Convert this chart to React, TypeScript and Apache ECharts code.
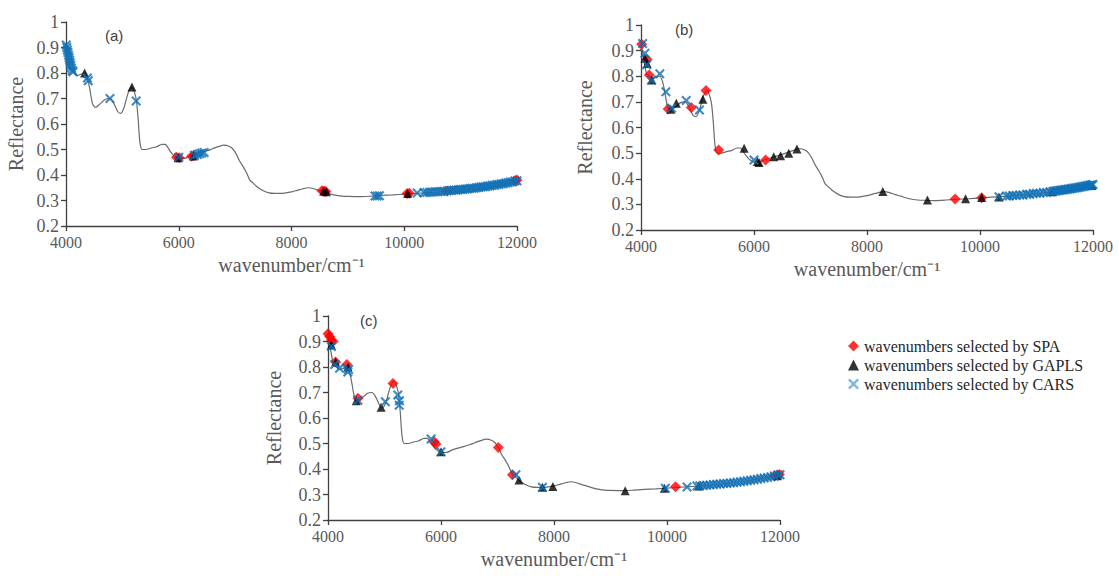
import React, { useEffect, useRef } from 'react';
import * as echarts from 'echarts';

// Mean spectrum (wavenumber / cm-1, reflectance)
const WAVENUMBER = [
  4000, 4030, 4060, 4100, 4150, 4200, 4260, 4330, 4380, 4420, 4470, 4520, 4600, 4700, 4780, 4850,
  4920, 4970, 5030, 5100, 5170, 5220, 5250, 5280, 5310, 5350, 5420, 5500, 5600, 5700, 5760, 5800,
  5860, 5920, 6000, 6100, 6200, 6300, 6400, 6500, 6600, 6700, 6800, 6900, 6960, 7020, 7080, 7150,
  7200, 7260, 7320, 7400, 7500, 7600, 7700, 7800, 7900, 8000, 8100, 8200, 8300, 8400, 8500, 8600,
  8700, 8800, 8900, 9000, 9200, 9400, 9600, 9800, 10000, 10200, 10400, 10600, 10800, 11000, 11200,
  11400, 11600, 11800, 12000,
];
const REFLECTANCE = [
  0.915, 0.89, 0.85, 0.81, 0.8, 0.79, 0.795, 0.8, 0.78, 0.74, 0.68, 0.665, 0.678, 0.697, 0.7, 0.68,
  0.648, 0.642, 0.665, 0.72, 0.745, 0.72, 0.69, 0.62, 0.53, 0.5, 0.5, 0.505, 0.51, 0.52, 0.52, 0.51,
  0.49, 0.475, 0.465, 0.465, 0.475, 0.482, 0.488, 0.495, 0.503, 0.511, 0.517, 0.512, 0.502, 0.482, 0.455, 0.43,
  0.41, 0.38, 0.368, 0.352, 0.338, 0.33, 0.328, 0.328, 0.33, 0.334, 0.34, 0.346, 0.35, 0.346, 0.338, 0.332,
  0.325, 0.32, 0.317, 0.316, 0.315, 0.317, 0.32, 0.322, 0.325, 0.328, 0.331, 0.334, 0.338, 0.342, 0.347,
  0.353, 0.36, 0.368, 0.377,
];

// Panel (a)
const A_SPA = [
  [5960, 0.47], [6010, 0.468], [6230, 0.474], [6270, 0.476], [8540, 0.338], [8580, 0.336],
  [8610, 0.335], [10050, 0.327], [10090, 0.328], [10760, 0.337], [11970, 0.378], [12000, 0.38],
];
const A_GAPLS = [
  [4330, 0.8], [5170, 0.745], [5990, 0.468], [6260, 0.475], [8570, 0.336], [8620, 0.334], [10060, 0.327],
];
const A_CARS = [
  [4005, 0.91], [4015, 0.9], [4025, 0.89], [4035, 0.88], [4045, 0.87], [4055, 0.86], [4065, 0.85],
  [4075, 0.84], [4085, 0.83], [4095, 0.82], [4110, 0.81], [4125, 0.805], [4380, 0.78], [4395, 0.77],
  [4780, 0.7], [5245, 0.69], [6000, 0.47], [6280, 0.477], [6330, 0.48], [6370, 0.483], [6410, 0.486],
  [6450, 0.488], [9480, 0.318], [9520, 0.318], [9560, 0.319], [10230, 0.329], [10350, 0.331],
  [10400, 0.331], [10450, 0.332], [10500, 0.333], [10550, 0.334], [10600, 0.334], [10650, 0.335],
  [10700, 0.336], [10760, 0.337], [10800, 0.339], [10840, 0.339], [10880, 0.341], [10920, 0.34],
  [10960, 0.342], [11000, 0.343], [11040, 0.343], [11080, 0.345], [11120, 0.345], [11160, 0.347],
  [11200, 0.348], [11240, 0.348], [11280, 0.35], [11320, 0.351], [11360, 0.353], [11400, 0.354],
  [11440, 0.354], [11480, 0.357], [11520, 0.357], [11560, 0.36], [11600, 0.36], [11640, 0.363],
  [11680, 0.363], [11720, 0.366], [11760, 0.366], [11800, 0.369], [11840, 0.37], [11880, 0.373],
  [11920, 0.373], [11960, 0.376], [12000, 0.377],
];

// Panel (b)
const B_SPA = [
  [4012, 0.925], [4110, 0.865], [4146, 0.805], [4480, 0.672], [4890, 0.678], [5150, 0.744],
  [5375, 0.512], [6205, 0.473], [9560, 0.321], [10030, 0.326],
];
const B_GAPLS = [
  [4070, 0.87], [4110, 0.85], [4190, 0.785], [4525, 0.671], [4625, 0.695], [5095, 0.71], [5825, 0.519],
  [6060, 0.467], [6090, 0.463], [6350, 0.486], [6470, 0.49], [6615, 0.5], [6760, 0.516], [8280, 0.35],
  [9070, 0.317], [9745, 0.322], [10030, 0.327], [10335, 0.329], [11275, 0.349], [11980, 0.374],
];
const B_CARS = [
  [4029, 0.928], [4070, 0.89], [4100, 0.845], [4187, 0.785], [4333, 0.81], [4440, 0.74], [4540, 0.675],
  [4800, 0.705], [5035, 0.668], [6000, 0.473], [10335, 0.33], [10470, 0.333], [10520, 0.333],
  [10580, 0.335], [10640, 0.335], [10700, 0.337], [10760, 0.337], [10830, 0.34], [10880, 0.34],
  [10940, 0.342], [11000, 0.343], [11060, 0.343], [11120, 0.346], [11180, 0.346], [11240, 0.349],
  [11290, 0.35], [11320, 0.352], [11350, 0.352], [11380, 0.354], [11410, 0.354], [11440, 0.356],
  [11470, 0.356], [11500, 0.358], [11530, 0.358], [11560, 0.36], [11590, 0.36], [11620, 0.362],
  [11650, 0.363], [11680, 0.364], [11710, 0.365], [11740, 0.366], [11770, 0.368], [11800, 0.369],
  [11830, 0.37], [11860, 0.372], [11890, 0.373], [11920, 0.374], [11950, 0.376], [11980, 0.377],
  [12000, 0.378],
];

// Panel (c)
const C_SPA = [
  [4000, 0.93], [4030, 0.92], [4060, 0.905], [4090, 0.9], [4135, 0.82], [4335, 0.81], [4530, 0.677],
  [5150, 0.735], [5880, 0.507], [5910, 0.498], [7015, 0.484], [7265, 0.377], [10150, 0.33],
  [11900, 0.373], [11960, 0.376], [11990, 0.378],
];
const C_GAPLS = [
  [4060, 0.886], [4135, 0.82], [4355, 0.8], [4500, 0.668], [4940, 0.642], [6000, 0.468], [7380, 0.357],
  [7795, 0.328], [7980, 0.331], [9260, 0.315], [9955, 0.325], [10560, 0.333], [11950, 0.374],
];
const C_CARS = [
  [4060, 0.88], [4120, 0.81], [4205, 0.795], [4350, 0.78], [4365, 0.79], [4530, 0.67], [5015, 0.664],
  [5235, 0.69], [5260, 0.65], [5265, 0.668], [5825, 0.518], [6000, 0.468], [7325, 0.377], [7795, 0.328],
  [9970, 0.325], [10355, 0.329], [10530, 0.333], [10580, 0.334], [10640, 0.335], [10700, 0.336],
  [10760, 0.337], [10820, 0.339], [10880, 0.34], [10940, 0.341], [11000, 0.343], [11060, 0.343],
  [11120, 0.345], [11180, 0.346], [11240, 0.348], [11300, 0.35], [11360, 0.352], [11420, 0.354],
  [11480, 0.356], [11540, 0.358], [11600, 0.36], [11660, 0.363], [11720, 0.365], [11780, 0.367],
  [11840, 0.37], [11900, 0.373], [11960, 0.376], [12000, 0.377],
];

const PANEL_LABELS = ['(a)', '(b)', '(c)'];
const SERIES_NAMES = [
  'wavenumbers selected by SPA',
  'wavenumbers selected by GAPLS',
  'wavenumbers selected by CARS',
];
const X_NAME = 'wavenumber/cm⁻¹';
const Y_NAME = 'Reflectance';

const PANELS = [
  { spa: A_SPA, gapls: A_GAPLS, cars: A_CARS },
  { spa: B_SPA, gapls: B_GAPLS, cars: B_CARS },
  { spa: C_SPA, gapls: C_GAPLS, cars: C_CARS },
];

const LAYOUT = [
  { left: 66, top: 22, width: 451, height: 204, yGap: 40, label: [105, 28] },
  { left: 641, top: 25, width: 452, height: 205, yGap: 46, label: [675, 22] },
  { left: 328, top: 316, width: 452, height: 204, yGap: 44, label: [360, 313] },
];

const SERIF = 'Liberation Serif, Times New Roman, serif';
const CROSS = 'path://M0,1.5 L1.5,0 L5,3.5 L8.5,0 L10,1.5 L6.5,5 L10,8.5 L8.5,10 L5,6.5 L1.5,10 L0,8.5 L3.5,5 Z';

export default function App() {
  const ref = useRef<HTMLDivElement>(null);

  useEffect(() => {
    if (!ref.current) return;
    const chart = echarts.init(ref.current, undefined, { renderer: 'svg' });
    const curve = WAVENUMBER.map((w, i) => [w, REFLECTANCE[i]]);

    const grid = LAYOUT.map((l) => ({ left: l.left, top: l.top, width: l.width, height: l.height }));
    const xAxis = LAYOUT.map((l, i) => ({
      type: 'value',
      gridIndex: i,
      min: 4000,
      max: 12000,
      interval: 2000,
      name: X_NAME,
      nameLocation: 'middle',
      nameGap: 29,
      nameTextStyle: { fontFamily: SERIF, fontSize: 20, color: '#595959' },
      axisLine: { show: true, lineStyle: { color: '#404040', width: 1.3 } },
      axisTick: { show: true, length: 5, lineStyle: { color: '#404040', width: 1.3 } },
      axisLabel: {
        fontFamily: SERIF,
        fontSize: 16,
        color: '#595959',
        margin: 8,
        formatter: (v: number) => String(v),
      },
      splitLine: { show: false },
    }));
    const yAxis = LAYOUT.map((l, i) => ({
      type: 'value',
      gridIndex: i,
      min: 0.2,
      max: 1,
      interval: 0.1,
      name: Y_NAME,
      nameLocation: 'middle',
      nameGap: l.yGap,
      nameTextStyle: { fontFamily: SERIF, fontSize: 20, color: '#595959' },
      axisLine: { show: true, lineStyle: { color: '#404040', width: 1.3 } },
      axisTick: { show: true, length: 5, lineStyle: { color: '#404040', width: 1.3 } },
      axisLabel: {
        fontFamily: SERIF,
        fontSize: 18,
        color: '#595959',
        margin: 7,
        formatter: (v: number) => (Math.abs(v - 1) < 1e-9 ? '1' : v.toFixed(1)),
      },
      splitLine: { show: false },
    }));

    const series: any[] = [];
    PANELS.forEach((p, i) => {
      series.push({
        type: 'line',
        xAxisIndex: i,
        yAxisIndex: i,
        data: curve,
        showSymbol: false,
        smooth: 0.25,
        lineStyle: { color: '#6b6b6b', width: 1.2 },
        silent: true,
        z: 1,
      });
      series.push({
        name: SERIES_NAMES[0],
        type: 'scatter',
        xAxisIndex: i,
        yAxisIndex: i,
        data: p.spa,
        symbol: 'diamond',
        symbolSize: 11,
        itemStyle: { color: '#ff0000' },
        z: 2,
      });
      series.push({
        name: SERIES_NAMES[1],
        type: 'scatter',
        xAxisIndex: i,
        yAxisIndex: i,
        data: p.gapls,
        symbol: 'triangle',
        symbolSize: 9,
        itemStyle: { color: '#000000' },
        z: 3,
      });
      series.push({
        name: SERIES_NAMES[2],
        type: 'scatter',
        xAxisIndex: i,
        yAxisIndex: i,
        data: p.cars,
        symbol: CROSS,
        symbolSize: 10,
        itemStyle: { color: '#0f6fb5' },
        z: 4,
      });
    });

    chart.setOption({
      animation: false,
      backgroundColor: '#ffffff',
      grid,
      xAxis,
      yAxis,
      series,
      legend: {
        orient: 'vertical',
        left: 843,
        top: 333,
        itemWidth: 11,
        itemHeight: 11,
        itemGap: 3,
        data: [
          { name: SERIES_NAMES[0] },
          { name: SERIES_NAMES[1] },
          { name: SERIES_NAMES[2], itemStyle: { color: '#5aa8dc' } },
        ],
        textStyle: { fontFamily: SERIF, fontSize: 16, color: '#262626' },
        selectedMode: false,
      },
      graphic: LAYOUT.map((l, i) => ({
        type: 'text',
        left: l.label[0],
        top: l.label[1],
        style: {
          text: PANEL_LABELS[i],
          fontFamily: 'Liberation Sans, Arial, sans-serif',
          fontSize: 15,
          fill: '#404040',
        },
      })),
    });

    return () => chart.dispose();
  }, []);

  return <div ref={ref} style={{ width: 1119, height: 576, position: 'absolute', left: 0, top: 0 }} />;
}
